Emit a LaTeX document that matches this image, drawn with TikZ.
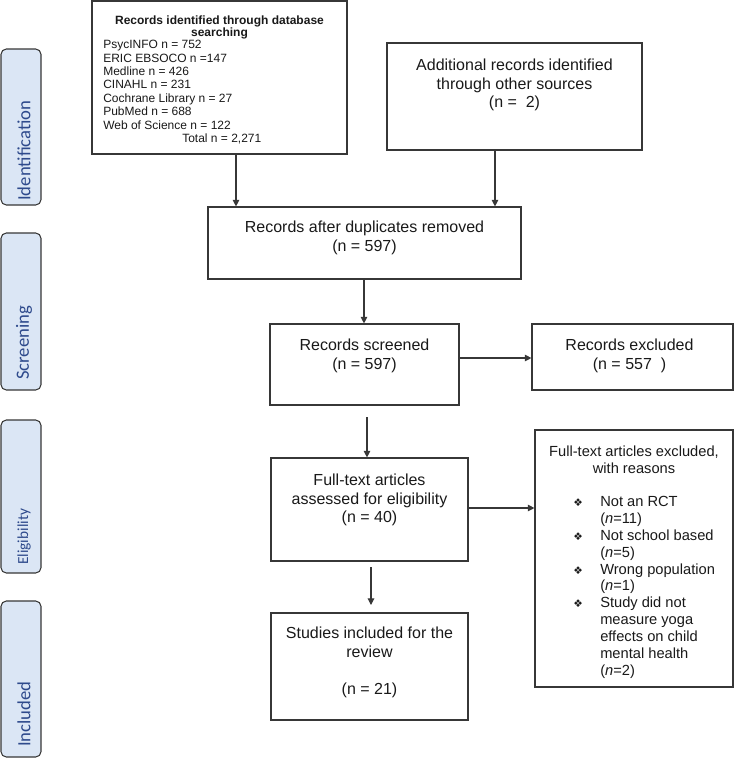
\documentclass[tikz,border=0pt]{standalone}
\usepackage{fontspec}
\setmainfont{Liberation Sans}
\newfontfamily\calib{Carlito}
\newfontfamily\symf{DejaVu Sans}
\usetikzlibrary{arrows.meta,fit}
\definecolor{barfill}{RGB}{219,230,245}
\definecolor{bartext}{RGB}{46,74,140}
\definecolor{edge}{RGB}{55,55,55}
\definecolor{txt}{RGB}{25,25,25}
\begin{document}
\begin{tikzpicture}[x=0.75pt,y=-0.75pt,
  box/.style={draw=edge, line width=0.85pt, inner sep=0pt},
  phase/.style={draw=edge, fill=barfill, rounded corners=4pt, line width=0.8pt, inner sep=0pt},
  phasetxt/.style={rotate=90, anchor=west, inner sep=0pt, text=bartext, font=\calib\fontsize{14}{16}\selectfont},
  t12/.style={inner sep=0pt, align=center, text=txt, font=\fontsize{12}{13.8}\selectfont},
  t11/.style={inner sep=0pt, align=center, text=txt, font=\fontsize{11}{12.65}\selectfont},
  t9/.style={inner sep=0pt, text=txt, font=\fontsize{9}{10.07}\selectfont},
  arr/.style={draw=edge, line width=0.8pt, -{Triangle[length=5pt,width=5pt]}}
]
\useasboundingbox (0,0) rectangle (734,758);

% phase bars
\node[phase, fit={(1,49) (41,205)}] (pid) {};
\node[phasetxt] (pidt) at (24,201) {Identification};
\node[phase, fit={(1,233) (41,390)}] (psc) {};
\node[phasetxt] (psct) at (24,380) {Screening};
\node[phase, fit={(1,420) (41,573)}] (pel) {};
\node[phasetxt, font=\calib\fontsize{11.5}{13}\selectfont] (pelt) at (24,565) {Eligibility};
\node[phase, fit={(1,601) (41,757)}] (pin) {};
\node[phasetxt] (pint) at (24,747) {Included};

% database box
\node[box, fit={(92,1) (347,154)}] (db) {};
\node[t9, anchor=north, align=center, font=\fontsize{9}{9.5}\selectfont\bfseries] (dbh) at (219.5,15.2) {Records identified through database\\searching};
\node[t9, anchor=north west, align=left] (dbl) at (103,40) {PsycINFO n = 752\\ERIC EBSOCO n =147\\Medline n = 426\\CINAHL n = 231\\Cochrane Library n = 27\\PubMed n = 688\\Web of Science n = 122\\\hspace*{59.25pt}Total n = 2,271};

% additional box
\node[box, fit={(387,43) (642,150)}] (add) {};
\node[t12, anchor=north] (addt) at (514.5,59) {Additional records identified\\through other sources\\(n =\ \ 2)};

% duplicates removed
\node[box, fit={(208,207) (521,279)}] (dup) {};
\node[t12, anchor=north] (dupt) at (364.5,221) {Records after duplicates removed\\(n = 597)};

% screened
\node[box, fit={(270,324) (459,405)}] (scr) {};
\node[t12, anchor=north] (scrt) at (364.5,339) {Records screened\\(n = 597)};

% excluded
\node[box, fit={(532,324) (733,390)}] (exc) {};
\node[t12, anchor=north] (exct) at (629.5,339) {Records excluded\\(n = 557\ \ )};

% full text
\node[box, fit={(271,458) (468,561)}] (ft) {};
\node[t12, anchor=north] (ftt) at (369.5,474) {Full-text articles\\assessed for eligibility\\(n = 40)};

% reasons
\node[box, fit={(535,430) (733,687)}] (rs) {};
\node[t11, anchor=north] (rsh) at (634,445.6) {Full-text articles excluded,\\with reasons};
\node[t11, anchor=north west, align=left] (rsl) at (573,494.5) {%
\begin{tabular}{@{}l@{}l@{}}
\makebox[20.25pt][l]{\symf\fontsize{8}{12.65}\selectfont ❖} & Not an RCT\\
 & (\textit{n}=11)\\
\makebox[20.25pt][l]{\symf\fontsize{8}{12.65}\selectfont ❖} & Not school based\\
 & (\textit{n}=5)\\
\makebox[20.25pt][l]{\symf\fontsize{8}{12.65}\selectfont ❖} & Wrong population\\
 & (\textit{n}=1)\\
\makebox[20.25pt][l]{\symf\fontsize{8}{12.65}\selectfont ❖} & Study did not\\
 & measure yoga\\
 & effects on child\\
 & mental health\\
 & (\textit{n}=2)
\end{tabular}};

% studies included
\node[box, fit={(271,613) (468,720)}] (inc) {};
\node[t12, anchor=north] (inct) at (369.5,627) {Studies included for the\\review\\[13.8pt](n = 21)};

% connectors
\coordinate (x1) at (236,0);
\coordinate (x2) at (495,0);
\coordinate (x3) at (364,0);
\coordinate (y1) at (0,358);
\coordinate (y2) at (0,508);
\coordinate (s2) at (367,417);
\coordinate (f2a) at (371,567);
\coordinate (f2b) at (371,605);
\draw[arr] (x1 |- db.south) -- (x1 |- dup.north);
\draw[arr] (x2 |- add.south) -- (x2 |- dup.north);
\draw[arr] (x3 |- dup.south) -- (x3 |- scr.north);
\draw[arr] (scr.east |- y1) -- (exc.west |- y1);
\draw[arr] (s2) -- (s2 |- ft.north);
\draw[arr] (ft.east |- y2) -- (rs.west |- y2);
\draw[arr] (f2a) -- (f2b);
\end{tikzpicture}
\end{document}
